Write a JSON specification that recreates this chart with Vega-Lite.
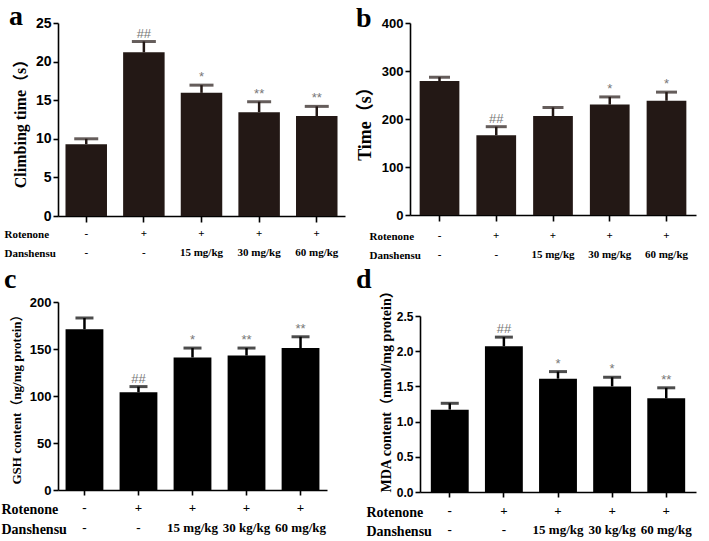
{
  "$schema": "https://vega.github.io/schema/vega-lite/v6.json",
  "padding": {"left": 1, "top": 3, "right": 4, "bottom": 2},
  "columns": 2,
  "align": "none",
  "bounds": "full",
  "spacing": {"row": 6, "column": 11},
  "config": {
    "view": {"stroke": null},
    "axis": {"domainColor": "black", "domainWidth": 1.6, "tickColor": "black", "tickWidth": 1.6, "labelColor": "black", "titleColor": "black", "grid": false},
    "title": {"color": "black", "font": "Liberation Serif", "fontWeight": "bold", "fontSize": 28, "anchor": "start", "frame": "group", "baseline": "alphabetic"}
  },
  "concat": [
    {
      "width": 287, "height": 193,
      "title": {"text": "a", "dx": -49, "offset": -15},
      "data": {"values": [
        {"group": "-|-", "mean": 9.3, "upper": 10.0, "sig": ""},
        {"group": "+|-", "mean": 21.2, "upper": 22.6, "sig": "##"},
        {"group": "+|15 mg/kg", "mean": 15.95, "upper": 16.95, "sig": "*"},
        {"group": "+|30 mg/kg", "mean": 13.45, "upper": 14.8, "sig": "**"},
        {"group": "+|60 mg/kg", "mean": 12.95, "upper": 14.2, "sig": "**"}
      ]},
      "encoding": {"x": {"field": "group", "type": "nominal", "sort": null,
        "scale": {"paddingInner": 0.28, "paddingOuter": 0.13},
        "axis": {"title": ["Rotenone", "Danshensu"], "titleX": -54, "titleY": 12, "titleAlign": "left", "titleBaseline": "top", "titleLineHeight": 19, "titleFont": "Liberation Serif", "titleFontWeight": "bold", "titleFontSize": 11,
          "labelExpr": "split(datum.label, '|')", "labelAngle": 0, "labelLineHeight": 19, "labelBaseline": "top", "labelPadding": 5, "labelFont": "Liberation Serif", "labelFontWeight": "bold", "labelFontSize": 11, "tickSize": 6}}},
      "layer": [
        {"mark": {"type": "bar", "color": "#231815"},
         "encoding": {"y": {"field": "mean", "type": "quantitative", "title": "Climbing time（s）", "scale": {"domain": [0, 25], "nice": false},
           "axis": {"values": [0, 5, 10, 15, 20, 25], "titleFont": "Liberation Serif, Noto Sans CJK SC", "titleFontSize": 16, "titleFontWeight": "bold", "titlePadding": 7, "labelFont": "Liberation Sans", "labelFontWeight": "bold", "labelFontSize": 14, "labelPadding": 2, "tickSize": 5}}}},
        {"mark": {"type": "rule", "color": "#231815", "strokeWidth": 2.5},
         "encoding": {"y": {"field": "mean", "type": "quantitative", "title": "Climbing time（s）", "scale": {"domain": [0, 25], "nice": false},
           "axis": {"values": [0, 5, 10, 15, 20, 25], "titleFont": "Liberation Serif, Noto Sans CJK SC", "titleFontSize": 16, "titleFontWeight": "bold", "titlePadding": 7, "labelFont": "Liberation Sans", "labelFontWeight": "bold", "labelFontSize": 14, "labelPadding": 2, "tickSize": 5}}, "y2": {"field": "upper"}}},
        {"mark": {"type": "tick", "color": "#231815", "thickness": 3, "size": 24},
         "encoding": {"y": {"field": "upper", "type": "quantitative", "title": "Climbing time（s）", "scale": {"domain": [0, 25], "nice": false},
           "axis": {"values": [0, 5, 10, 15, 20, 25], "titleFont": "Liberation Serif, Noto Sans CJK SC", "titleFontSize": 16, "titleFontWeight": "bold", "titlePadding": 7, "labelFont": "Liberation Sans", "labelFontWeight": "bold", "labelFontSize": 14, "labelPadding": 2, "tickSize": 5}}}},
        {"mark": {"type": "text", "color": "#777777", "font": "Liberation Sans", "fontSize": 13, "baseline": "alphabetic", "dy": -4},
         "encoding": {"y": {"field": "upper", "type": "quantitative", "title": "Climbing time（s）", "scale": {"domain": [0, 25], "nice": false},
           "axis": {"values": [0, 5, 10, 15, 20, 25], "titleFont": "Liberation Serif, Noto Sans CJK SC", "titleFontSize": 16, "titleFontWeight": "bold", "titlePadding": 7, "labelFont": "Liberation Sans", "labelFontWeight": "bold", "labelFontSize": 14, "labelPadding": 2, "tickSize": 5}}, "text": {"field": "sig"}}}
      ]
    },
    {
      "width": 286, "height": 192,
      "title": {"text": "b", "dx": -54, "offset": -16},
      "data": {"values": [
        {"group": "-|-", "mean": 279, "upper": 287, "sig": ""},
        {"group": "+|-", "mean": 166, "upper": 184, "sig": "##"},
        {"group": "+|15 mg/kg", "mean": 206, "upper": 224, "sig": ""},
        {"group": "+|30 mg/kg", "mean": 230, "upper": 246, "sig": "*"},
        {"group": "+|60 mg/kg", "mean": 238, "upper": 256, "sig": "*"}
      ]},
      "encoding": {"x": {"field": "group", "type": "nominal", "sort": null,
        "scale": {"paddingInner": 0.3, "paddingOuter": 0.17},
        "axis": {"title": ["Rotenone", "Danshensu"], "titleX": -41, "titleY": 15, "titleAlign": "left", "titleBaseline": "top", "titleLineHeight": 19, "titleFont": "Liberation Serif", "titleFontWeight": "bold", "titleFontSize": 11,
          "labelExpr": "split(datum.label, '|')", "labelAngle": 0, "labelLineHeight": 19, "labelBaseline": "top", "labelPadding": 8, "labelFont": "Liberation Serif", "labelFontWeight": "bold", "labelFontSize": 11, "tickSize": 6}}},
      "layer": [
        {"mark": {"type": "bar", "color": "#231815"},
         "encoding": {"y": {"field": "mean", "type": "quantitative", "title": "Time（s）", "scale": {"domain": [0, 400], "nice": false},
           "axis": {"values": [0, 100, 200, 300, 400], "titleFont": "Liberation Serif, Noto Sans CJK SC", "titleFontSize": 18, "titleFontWeight": "bold", "titlePadding": 7, "labelFont": "Liberation Sans", "labelFontWeight": "bold", "labelFontSize": 13, "labelPadding": 2, "tickSize": 5}}}},
        {"mark": {"type": "rule", "color": "#231815", "strokeWidth": 2.5},
         "encoding": {"y": {"field": "mean", "type": "quantitative", "title": "Time（s）", "scale": {"domain": [0, 400], "nice": false},
           "axis": {"values": [0, 100, 200, 300, 400], "titleFont": "Liberation Serif, Noto Sans CJK SC", "titleFontSize": 18, "titleFontWeight": "bold", "titlePadding": 7, "labelFont": "Liberation Sans", "labelFontWeight": "bold", "labelFontSize": 13, "labelPadding": 2, "tickSize": 5}}, "y2": {"field": "upper"}}},
        {"mark": {"type": "tick", "color": "#231815", "thickness": 3, "size": 21},
         "encoding": {"y": {"field": "upper", "type": "quantitative", "title": "Time（s）", "scale": {"domain": [0, 400], "nice": false},
           "axis": {"values": [0, 100, 200, 300, 400], "titleFont": "Liberation Serif, Noto Sans CJK SC", "titleFontSize": 18, "titleFontWeight": "bold", "titlePadding": 7, "labelFont": "Liberation Sans", "labelFontWeight": "bold", "labelFontSize": 13, "labelPadding": 2, "tickSize": 5}}}},
        {"mark": {"type": "text", "color": "#777777", "font": "Liberation Sans", "fontSize": 13, "baseline": "alphabetic", "dy": -4},
         "encoding": {"y": {"field": "upper", "type": "quantitative", "title": "Time（s）", "scale": {"domain": [0, 400], "nice": false},
           "axis": {"values": [0, 100, 200, 300, 400], "titleFont": "Liberation Serif, Noto Sans CJK SC", "titleFontSize": 18, "titleFontWeight": "bold", "titlePadding": 7, "labelFont": "Liberation Sans", "labelFontWeight": "bold", "labelFontSize": 13, "labelPadding": 2, "tickSize": 5}}, "text": {"field": "sig"}}}
      ]
    },
    {
      "width": 269, "height": 188,
      "title": {"text": "c", "dx": -54, "offset": 2},
      "data": {"values": [
        {"group": "-|-", "mean": 171, "upper": 183, "sig": ""},
        {"group": "+|-", "mean": 104, "upper": 110, "sig": "##"},
        {"group": "+|15 mg/kg", "mean": 141, "upper": 151, "sig": "*"},
        {"group": "+|30 kg/kg", "mean": 143, "upper": 151, "sig": "**"},
        {"group": "+|60 mg/kg", "mean": 151, "upper": 163, "sig": "**"}
      ]},
      "encoding": {"x": {"field": "group", "type": "nominal", "sort": null,
        "scale": {"paddingInner": 0.3, "paddingOuter": 0.14},
        "axis": {"title": ["Rotenone", "Danshensu"], "titleX": -57, "titleY": 12, "titleAlign": "left", "titleBaseline": "top", "titleLineHeight": 20, "titleFont": "Liberation Serif", "titleFontWeight": "bold", "titleFontSize": 14,
          "labelExpr": "split(datum.label, '|')", "labelAngle": 0, "labelLineHeight": 20, "labelBaseline": "top", "labelPadding": 6, "labelFont": "Liberation Serif", "labelFontWeight": "bold", "labelFontSize": 13, "tickSize": 5}}},
      "layer": [
        {"mark": {"type": "bar", "color": "black"},
         "encoding": {"y": {"field": "mean", "type": "quantitative", "title": "GSH content（ng/mg protein）", "scale": {"domain": [0, 200], "nice": false},
           "axis": {"values": [0, 50, 100, 150, 200], "titleFont": "Liberation Serif, Noto Sans CJK SC", "titleFontSize": 13, "titleFontWeight": "bold", "titlePadding": 6, "labelFont": "Liberation Sans", "labelFontWeight": "bold", "labelFontSize": 13, "labelPadding": 2, "tickSize": 5}}}},
        {"mark": {"type": "rule", "color": "black", "strokeWidth": 2.5},
         "encoding": {"y": {"field": "mean", "type": "quantitative", "title": "GSH content（ng/mg protein）", "scale": {"domain": [0, 200], "nice": false},
           "axis": {"values": [0, 50, 100, 150, 200], "titleFont": "Liberation Serif, Noto Sans CJK SC", "titleFontSize": 13, "titleFontWeight": "bold", "titlePadding": 6, "labelFont": "Liberation Sans", "labelFontWeight": "bold", "labelFontSize": 13, "labelPadding": 2, "tickSize": 5}}, "y2": {"field": "upper"}}},
        {"mark": {"type": "tick", "color": "black", "thickness": 3, "size": 18},
         "encoding": {"y": {"field": "upper", "type": "quantitative", "title": "GSH content（ng/mg protein）", "scale": {"domain": [0, 200], "nice": false},
           "axis": {"values": [0, 50, 100, 150, 200], "titleFont": "Liberation Serif, Noto Sans CJK SC", "titleFontSize": 13, "titleFontWeight": "bold", "titlePadding": 6, "labelFont": "Liberation Sans", "labelFontWeight": "bold", "labelFontSize": 13, "labelPadding": 2, "tickSize": 5}}}},
        {"mark": {"type": "text", "color": "#777777", "font": "Liberation Sans", "fontSize": 13, "baseline": "alphabetic", "dy": -4},
         "encoding": {"y": {"field": "upper", "type": "quantitative", "title": "GSH content（ng/mg protein）", "scale": {"domain": [0, 200], "nice": false},
           "axis": {"values": [0, 50, 100, 150, 200], "titleFont": "Liberation Serif, Noto Sans CJK SC", "titleFontSize": 13, "titleFontWeight": "bold", "titlePadding": 6, "labelFont": "Liberation Sans", "labelFontWeight": "bold", "labelFontSize": 13, "labelPadding": 2, "tickSize": 5}}, "text": {"field": "sig"}}}
      ]
    },
    {
      "width": 276, "height": 176,
      "title": {"text": "d", "dx": -64, "offset": -11},
      "data": {"values": [
        {"group": "-|-", "mean": 1.17, "upper": 1.26, "sig": ""},
        {"group": "+|-", "mean": 2.07, "upper": 2.2, "sig": "##"},
        {"group": "+|15 mg/kg", "mean": 1.61, "upper": 1.71, "sig": "*"},
        {"group": "+|30 kg/kg", "mean": 1.5, "upper": 1.63, "sig": "*"},
        {"group": "+|60 mg/kg", "mean": 1.33, "upper": 1.48, "sig": "**"}
      ]},
      "encoding": {"x": {"field": "group", "type": "nominal", "sort": null,
        "scale": {"paddingInner": 0.3, "paddingOuter": 0.2},
        "axis": {"title": ["Rotenone", "Danshensu"], "titleX": -54, "titleY": 13, "titleAlign": "left", "titleBaseline": "top", "titleLineHeight": 19, "titleFont": "Liberation Serif", "titleFontWeight": "bold", "titleFontSize": 14,
          "labelExpr": "split(datum.label, '|')", "labelAngle": 0, "labelLineHeight": 19, "labelBaseline": "top", "labelPadding": 7, "labelFont": "Liberation Serif", "labelFontWeight": "bold", "labelFontSize": 13, "tickSize": 5}}},
      "layer": [
        {"mark": {"type": "bar", "color": "black"},
         "encoding": {"y": {"field": "mean", "type": "quantitative", "title": "MDA content（nmol/mg protein）", "scale": {"domain": [0, 2.5], "nice": false},
           "axis": {"values": [0, 0.5, 1, 1.5, 2, 2.5], "format": ".1f", "titleAnchor": "start", "titleFont": "Liberation Serif, Noto Sans CJK SC", "titleFontSize": 14, "titleFontWeight": "bold", "titlePadding": 3, "labelFont": "Liberation Sans", "labelFontWeight": "bold", "labelFontSize": 12, "labelPadding": 2, "tickSize": 5}}}},
        {"mark": {"type": "rule", "color": "black", "strokeWidth": 2.5},
         "encoding": {"y": {"field": "mean", "type": "quantitative", "title": "MDA content（nmol/mg protein）", "scale": {"domain": [0, 2.5], "nice": false},
           "axis": {"values": [0, 0.5, 1, 1.5, 2, 2.5], "format": ".1f", "titleAnchor": "start", "titleFont": "Liberation Serif, Noto Sans CJK SC", "titleFontSize": 14, "titleFontWeight": "bold", "titlePadding": 3, "labelFont": "Liberation Sans", "labelFontWeight": "bold", "labelFontSize": 12, "labelPadding": 2, "tickSize": 5}}, "y2": {"field": "upper"}}},
        {"mark": {"type": "tick", "color": "black", "thickness": 3, "size": 18},
         "encoding": {"y": {"field": "upper", "type": "quantitative", "title": "MDA content（nmol/mg protein）", "scale": {"domain": [0, 2.5], "nice": false},
           "axis": {"values": [0, 0.5, 1, 1.5, 2, 2.5], "format": ".1f", "titleAnchor": "start", "titleFont": "Liberation Serif, Noto Sans CJK SC", "titleFontSize": 14, "titleFontWeight": "bold", "titlePadding": 3, "labelFont": "Liberation Sans", "labelFontWeight": "bold", "labelFontSize": 12, "labelPadding": 2, "tickSize": 5}}}},
        {"mark": {"type": "text", "color": "#777777", "font": "Liberation Sans", "fontSize": 13, "baseline": "alphabetic", "dy": -4},
         "encoding": {"y": {"field": "upper", "type": "quantitative", "title": "MDA content（nmol/mg protein）", "scale": {"domain": [0, 2.5], "nice": false},
           "axis": {"values": [0, 0.5, 1, 1.5, 2, 2.5], "format": ".1f", "titleAnchor": "start", "titleFont": "Liberation Serif, Noto Sans CJK SC", "titleFontSize": 14, "titleFontWeight": "bold", "titlePadding": 3, "labelFont": "Liberation Sans", "labelFontWeight": "bold", "labelFontSize": 12, "labelPadding": 2, "tickSize": 5}}, "text": {"field": "sig"}}}
      ]
    }
  ]
}
